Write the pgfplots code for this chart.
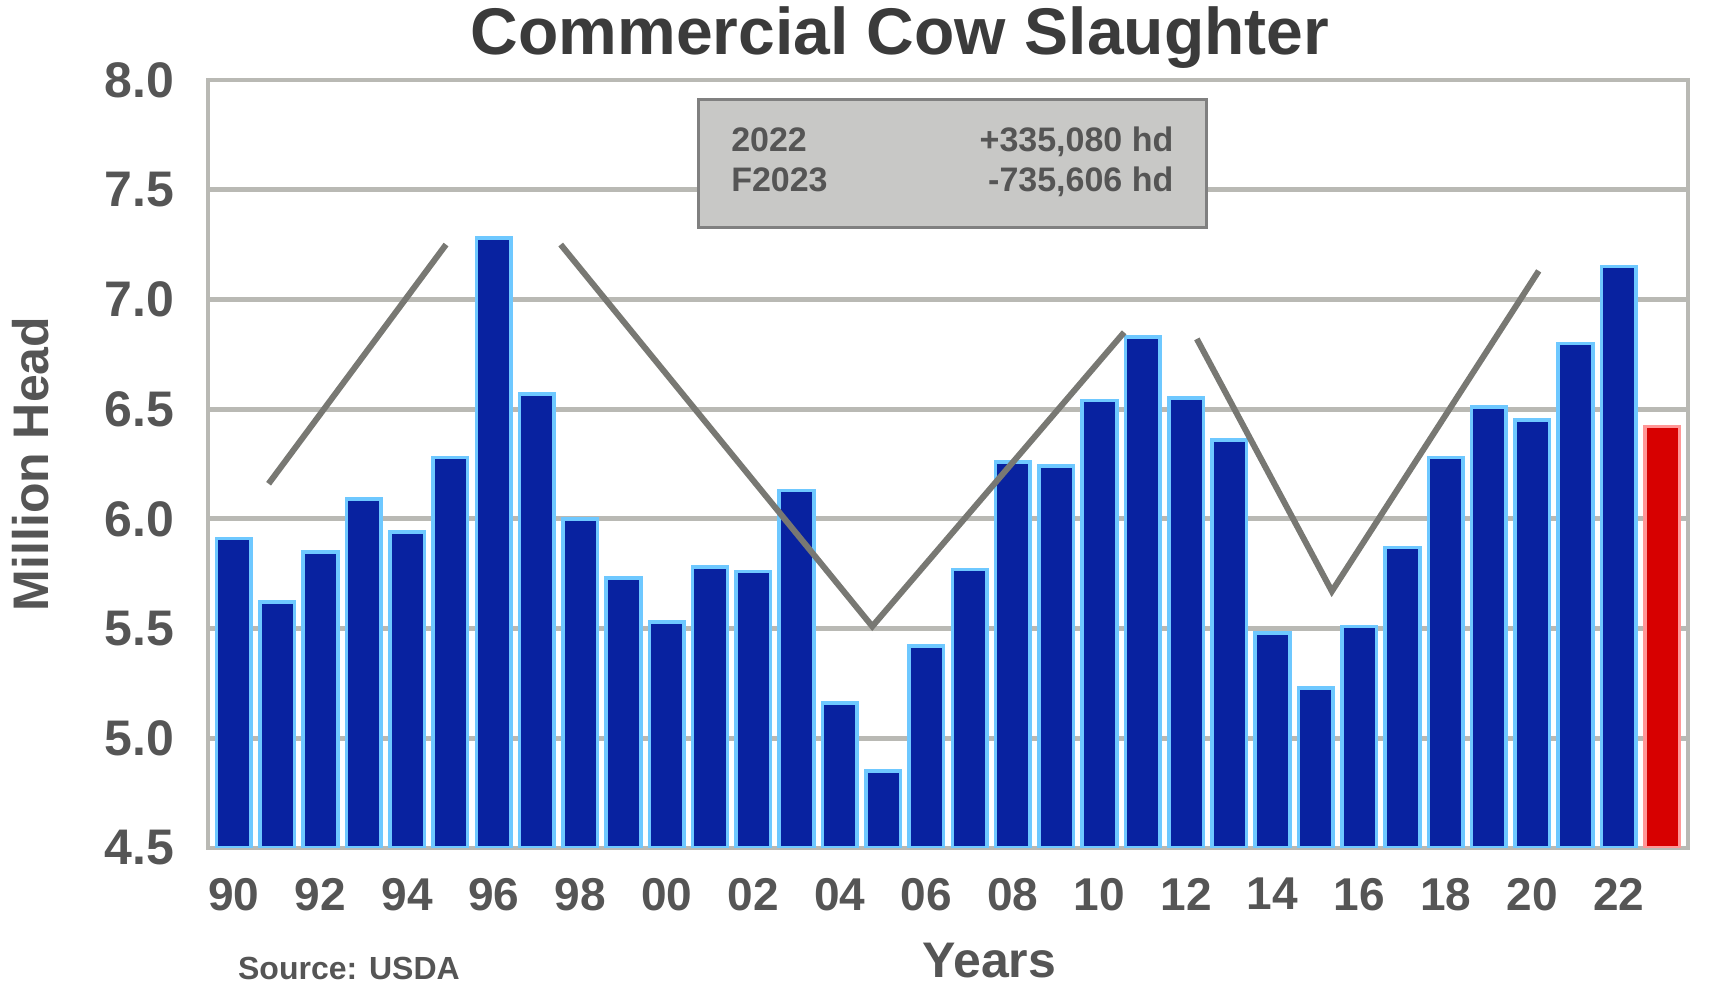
\documentclass[border=0pt]{standalone}
\usepackage{pgfplots}
\pgfplotsset{compat=1.18}
\usepackage{pgfplotstable}
\usepackage{fontspec}
\setmainfont{Liberation Sans}

\definecolor{barblue}{RGB}{8,34,160}
\definecolor{baredge}{RGB}{110,200,255}
\definecolor{fcred}{RGB}{215,0,0}
\definecolor{fcedge}{RGB}{255,150,150}
\definecolor{txtgray}{RGB}{85,85,85}
\definecolor{gridgray}{RGB}{185,185,180}
\definecolor{trendgray}{RGB}{120,120,115}
\definecolor{boxgray}{RGB}{200,200,198}

% commercial cow slaughter, million head
\pgfplotstableread{
year value
1990 5.91
1991 5.62
1992 5.85
1993 6.09
1994 5.94
1995 6.28
1996 7.28
1997 6.57
1998 6.00
1999 5.73
2000 5.53
2001 5.78
2002 5.76
2003 6.13
2004 5.16
2005 4.85
2006 5.42
2007 5.77
2008 6.26
2009 6.24
2010 6.54
2011 6.83
2012 6.55
2013 6.36
2014 5.48
2015 5.23
2016 5.51
2017 5.87
2018 6.28
2019 6.51
2020 6.45
2021 6.80
2022 7.15
}\slaughter

\begin{document}
\begin{tikzpicture}
\path[use as bounding box] (0,0) rectangle (429pt,248.5pt);
\begin{axis}[
    at={(52pt,36.5pt)}, anchor=south west,
    scale only axis, width=370pt, height=192pt,
    xmin=1989.4, xmax=2023.6,
    ymin=4.5, ymax=8.0,
    ytick={4.5,5,5.5,6,6.5,7,7.5,8},
    yticklabel style={xshift=-5pt, font=\bfseries\fontsize{12.5}{14}\selectfont,
        /pgf/number format/.cd, fixed, fixed zerofill, precision=1},
    xtick={1990,1992,...,2022},
    xticklabels={90,92,94,96,98,00,02,04,06,08,10,12,14,16,18,20,22},
    /pgf/number format/assume math mode=true,
    ticklabel style={font=\bfseries\fontsize{11}{13}\selectfont, text=txtgray},
    xticklabel style={yshift=-4pt, font=\bfseries\fontsize{11.5}{13}\selectfont},
    tick style={draw=none},
    ymajorgrids,
    grid style={gridgray, line width=1.2pt},
    axis line style={gridgray, line width=1.2pt},
    xlabel={Years}, ylabel={Million Head},
    label style={font=\bfseries\fontsize{12.5}{14}\selectfont, text=txtgray},
    xlabel style={at={(axis description cs:0.528,-0.146)}, anchor=center},
    ylabel style={at={(axis description cs:-0.12,0.5)}, anchor=center},
]

\addplot[ybar, bar width=0.8, fill=barblue, draw=baredge, line width=0.9pt]
    table[x=year, y=value] {\slaughter};
\addplot[ybar, bar width=0.8, fill=fcred, draw=fcedge, line width=0.9pt]
    coordinates {(2023,6.42)};

% cattle cycle lines
\addplot[trendgray, line width=1.5pt] coordinates {(1990.8,6.16) (1994.9,7.25)};
\addplot[trendgray, line width=1.5pt] coordinates {(1997.55,7.25) (2004.75,5.51) (2010.57,6.85)};
\addplot[trendgray, line width=1.5pt] coordinates {(2012.25,6.82) (2015.37,5.67) (2020.15,7.13)};

\node[fill=boxgray, draw=gray, line width=0.8pt, minimum width=127pt, minimum height=32pt,
      inner sep=2pt, text=txtgray, font=\bfseries\fontsize{8.5}{10}\selectfont]
    at (axis cs:2006.6,7.62)
    {\begin{tabular}{@{}l@{\hspace{38pt}}r@{}}2022 & +335,080 hd\\ F2023 & -735,606 hd\end{tabular}};
\end{axis}

\node[font=\bfseries\fontsize{16.5}{19}\selectfont, text=txtgray!70!black] at (225pt,239pt)
    {Commercial Cow Slaughter};
\node[font=\bfseries\fontsize{8}{9}\selectfont, text=txtgray, anchor=south west] at (56pt,0pt)
    {Source: USDA};
\end{tikzpicture}
\end{document}
